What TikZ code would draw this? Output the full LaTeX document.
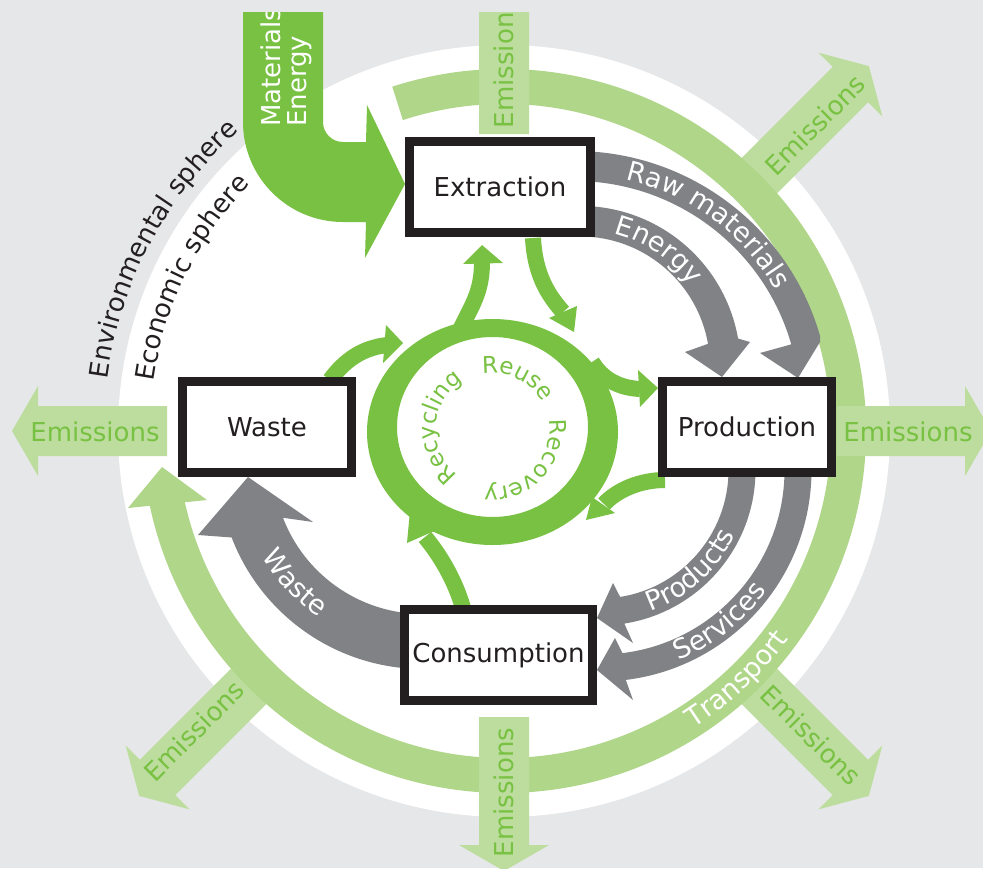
\documentclass[tikz,border=0pt]{standalone}
\usepackage{fontspec}
\setmainfont{DejaVu Sans}
\usetikzlibrary{decorations.text}
\definecolor{bgG}{HTML}{E6E7E8}
\definecolor{ringG}{HTML}{B0D68A}
\definecolor{emG}{HTML}{BCDD9D}
\definecolor{darkG}{HTML}{78C142}
\definecolor{grayA}{HTML}{808285}
\definecolor{boxK}{HTML}{231F20}
\newcommand\fA{\fontsize{26}{26}\selectfont}
\newcommand\fB{\fontsize{27}{27}\selectfont}
\newcommand\fC{\fontsize{23}{23}\selectfont}
\newcommand\emarrow[3]{%
  \fill[emG, shift={(504,-431)}, rotate=#1] (#2,-25) -- (#3,-25) -- (#3,-45) -- ({#3+26},0) -- (#3,45) -- (#3,25) -- (#2,25) -- cycle;}
\tikzset{
  stagebox/.style={draw=boxK, line width=9pt, fill=white, inner sep=0pt, minimum height=91pt, font=\fA, text=boxK},
  emtext/.style={font=\fA, text=darkG, inner sep=0pt},
  gflow/.style={draw=darkG, line width=16pt},
  ghead/.style={fill=darkG},
  curvetext/.style={decorate, decoration={text along path, text align=center, text={#1}}},
}
\begin{document}
\begin{tikzpicture}[x=1pt,y=1pt]
\useasboundingbox (0,0) rectangle (983,-868);
\fill[bgG] (0,0) rectangle (983,-868);
\begin{scope}
\clip (0,-12) rectangle (983,-868);
% white economic disk
\fill[white] (504,-431) circle[radius=386];
% diagonal emission arrows
\emarrow{45}{345}{490}
\emarrow{-45}{345}{490}
\emarrow{225}{345}{490}
% transport ring
\draw[ringG, line width=35pt] (504,-431) ++(108:344.5) arc[start angle=108, end angle=-169, radius=344.5];
\fill[ringG] (128,-508) -- (162,-467) -- (207,-500) -- cycle;
% axis emission arrows
\emarrow{90}{297}{464}
\emarrow{-90}{286}{414}
\emarrow{180}{337}{466}
\emarrow{0}{333}{461}
% emission labels
\node[emtext, rotate=90] (emT) at (504,-63.5) {Emissions};
\node[emtext, rotate=90] (emB) at (504,-792.5) {Emissions};
\node[emtext] (emL) at (95,-432) {Emissions};
\node[emtext] (emR) at (908,-432) {Emissions};
\node[emtext, rotate=45] (emUR) at (815,-125) {Emissions};
\node[emtext, rotate=-45] (emLR) at (811,-735) {Emissions};
\node[emtext, rotate=45] (emLL) at (194,-731) {Emissions};
\path[curvetext={|\fB\color{white}|Transport}] (504,-431) ++(-86.8:352.5) arc[start angle=-86.8, end angle=-6.8, radius=352.5];
% sphere labels
\path[curvetext={|\fA\color{boxK}|Environmental sphere}] (504,-431) ++(197:400) arc[start angle=197, end angle=107, radius=400];
\path[curvetext={|\fA\color{boxK}|Economic sphere}] (504,-431) ++(198.9:354) arc[start angle=198.9, end angle=108.9, radius=354];
% gray flows
\fill[grayA] (574.5,-406.5) ++(87:255.5) arc[start angle=87, end angle=16, radius=255.5] -- (820,-342) -- (798,-378) -- (760,-353) -- ([shift={(574.5,-406.5)}]16:225.5) arc[start angle=16, end angle=87, radius=225.5] -- cycle;
\fill[grayA] (580,-366.4) ++(87:160.5) arc[start angle=87, end angle=10, radius=160.5] -- (750,-342) -- (722,-377) -- (685,-352) -- ([shift={(580,-366.4)}]10:130) arc[start angle=10, end angle=87, radius=130] -- cycle;
\fill[grayA] (600,-470) ++(3:155.5) arc[start angle=3, end angle=-81, radius=155.5] -- (633,-643) -- (597,-618) -- (613,-583) -- ([shift={(600,-470)}]-81:128.5) arc[start angle=-81, end angle=3, radius=128.5] -- cycle;
\fill[grayA] (600,-470) ++(3:211.5) arc[start angle=3, end angle=-83, radius=211.5] -- (633,-700) -- (597,-670) -- (615,-638) -- ([shift={(600,-470)}]-83:184.5) arc[start angle=-83, end angle=3, radius=184.5] -- cycle;
\fill[grayA] (423,-464) ++(268:205) arc[start angle=268, end angle=201, radius=205] -- (198,-535) -- (248,-477) -- (313,-522) -- ([shift={(423,-464)}]201:150) arc[start angle=201, end angle=268, radius=150] -- cycle;
\path[curvetext={|\fB\color{white}|Raw materials}] (574.5,-406.5) ++(113.6:232.5) arc[start angle=113.6, end angle=-6.4, radius=232.5];
\path[curvetext={|\fB\color{white}|Energy}] (580,-366.4) ++(125.9:137) arc[start angle=125.9, end angle=-14.1, radius=137];
\path[curvetext={|\fB\color{white}|Products}] (600,-470) ++(-118:150) arc[start angle=-118, end angle=22, radius=150];
\path[curvetext={|\fB\color{white}|Services}] (600,-470) ++(-121.7:206) arc[start angle=-121.7, end angle=18.3, radius=206];
\path[curvetext={|\fB\color{white}|Waste}] (423,-464) ++(162.7:185.5) arc[start angle=162.7, end angle=282.7, radius=185.5];
% materials / energy input
\fill[darkG] (243,-12) -- (243,-122) arc[start angle=180, end angle=270, radius=100] -- (366,-222) -- (365,-258) -- (405,-184) -- (367,-105) -- (366,-142) -- (343,-142) arc[start angle=270, end angle=180, radius=20] -- (323,-12) -- cycle;
\node[font=\fA, text=white, rotate=90, anchor=base west, inner sep=0pt] (matT) at (280,-127) {Materials};
\node[font=\fA, text=white, rotate=90, anchor=base west, inner sep=0pt] (enT) at (306,-127) {Energy};
% recycling ring
\fill[darkG, even odd rule] (492.5,-432) ellipse[x radius=125.5, y radius=113] (492.5,-427) ellipse[x radius=95.5, y radius=90];
% green flows
\draw[gflow] (460,-330) .. controls (472,-305) and (482,-292) .. (482,-262);
\fill[ghead] (463,-264) -- (482,-245) -- (503,-263) -- cycle;
\draw[gflow] (533,-238) .. controls (535,-275) and (548,-295) .. (563,-312);
\fill[ghead] (549,-318) -- (574,-332) -- (577,-306) -- cycle;
\draw[gflow] (592,-362) .. controls (603,-380) and (620,-388) .. (640,-389);
\fill[ghead] (638,-370) -- (658,-388) -- (640,-407) -- cycle;
\draw[gflow] (665,-480) .. controls (640,-480) and (617,-490) .. (604,-504);
\fill[ghead] (592,-497) -- (586,-520) -- (615,-513) -- cycle;
\draw[gflow] (330,-380) .. controls (345,-360) and (362,-348) .. (387,-345);
\fill[ghead] (386,-325) -- (403,-343) -- (383,-363) -- cycle;
\draw[gflow] (463,-608) .. controls (455,-580) and (440,-555) .. (425,-537);
\fill[ghead] (407,-543) -- (410,-511) -- (441,-528) -- cycle;
\path[curvetext={|\fC\color{darkG}|Reuse}] (492.5,-430) ++(134.5:57) arc[start angle=134.5, end angle=-5.5, radius=57];
\path[curvetext={|\fC\color{darkG}|Recovery}] (492.5,-430) ++(26:57) arc[start angle=26, end angle=-114, radius=57];
\path[curvetext={|\fC\color{darkG}|Recycling}] (492.5,-430) ++(246.5:57) arc[start angle=246.5, end angle=106.5, radius=57];
% stage boxes
\node[stagebox, minimum width=181pt] (extraction) at (500,-187) {Extraction};
\node[stagebox, minimum width=169pt] (production) at (747,-427) {Production};
\node[stagebox, minimum width=169pt] (waste) at (267,-427) {Waste};
\node[stagebox, minimum width=188pt] (consumption) at (498.5,-655) {Consumption};
\end{scope}
\end{tikzpicture}
\end{document}
